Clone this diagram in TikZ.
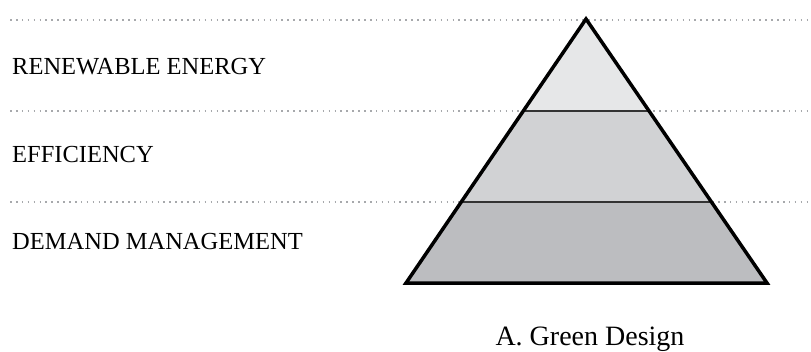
\documentclass[tikz,border=0pt]{standalone}
\usepackage{fontspec}
\setmainfont{Liberation Serif}
\usetikzlibrary{calc}
\definecolor{tierA}{HTML}{E6E7E8}
\definecolor{tierB}{HTML}{D1D2D4}
\definecolor{tierC}{HTML}{BCBDC0}
\definecolor{dotgray}{HTML}{A7A9AC}
\begin{document}
\begin{tikzpicture}[x=1pt,y=-1pt,
  guide/.style={draw=dotgray, line width=1.6pt, dash pattern=on 1.6pt off 4.3pt},
  tierlabel/.style={anchor=base west, inner sep=0pt, font=\fontsize{24.5}{28}\selectfont},
  divider/.style={draw=black!80, line width=2pt},
  outline/.style={draw=black, line width=3.5pt, line join=miter},
  caption/.style={anchor=base, inner sep=0pt, font=\fontsize{28}{32}\selectfont}]
\useasboundingbox (0,0) rectangle (811,351);
% guide lines
\coordinate (g1s) at (10,20);  \coordinate (g1e) at (811,20);
\coordinate (g2s) at (10,111); \coordinate (g2e) at (811,111);
\coordinate (g3s) at (10,202); \coordinate (g3e) at (811,202);
\draw[guide] (g1s) -- (g1e);
\draw[guide] (g2s) -- (g2e);
\draw[guide] (g3s) -- (g3e);
% pyramid corners
\coordinate (apex) at (586,19);
\coordinate (bl) at (406,283);
\coordinate (br) at (767,283);
\coordinate (l2) at ($(apex)!0.3485!(bl)$);
\coordinate (r2) at ($(apex)!0.3485!(br)$);
\coordinate (l3) at ($(apex)!0.6932!(bl)$);
\coordinate (r3) at ($(apex)!0.6932!(br)$);
\fill[tierA] (apex) -- (l2) -- (r2) -- cycle;
\fill[tierB] (l2) -- (l3) -- (r3) -- (r2) -- cycle;
\fill[tierC] (l3) -- (bl) -- (br) -- (r3) -- cycle;
\draw[divider] (l2) -- (r2);
\draw[divider] (l3) -- (r3);
\draw[outline] (apex) -- (bl) -- (br) -- cycle;
% labels
\node[tierlabel] (t1) at (12,74.5) {RENEWABLE ENERGY};
\node[tierlabel] (t2) at (12,162) {EFFICIENCY};
\node[tierlabel] (t3) at (12,249) {DEMAND MANAGEMENT};
\node[caption] (cap) at (590,345.5) {A. Green Design};
\end{tikzpicture}
\end{document}
